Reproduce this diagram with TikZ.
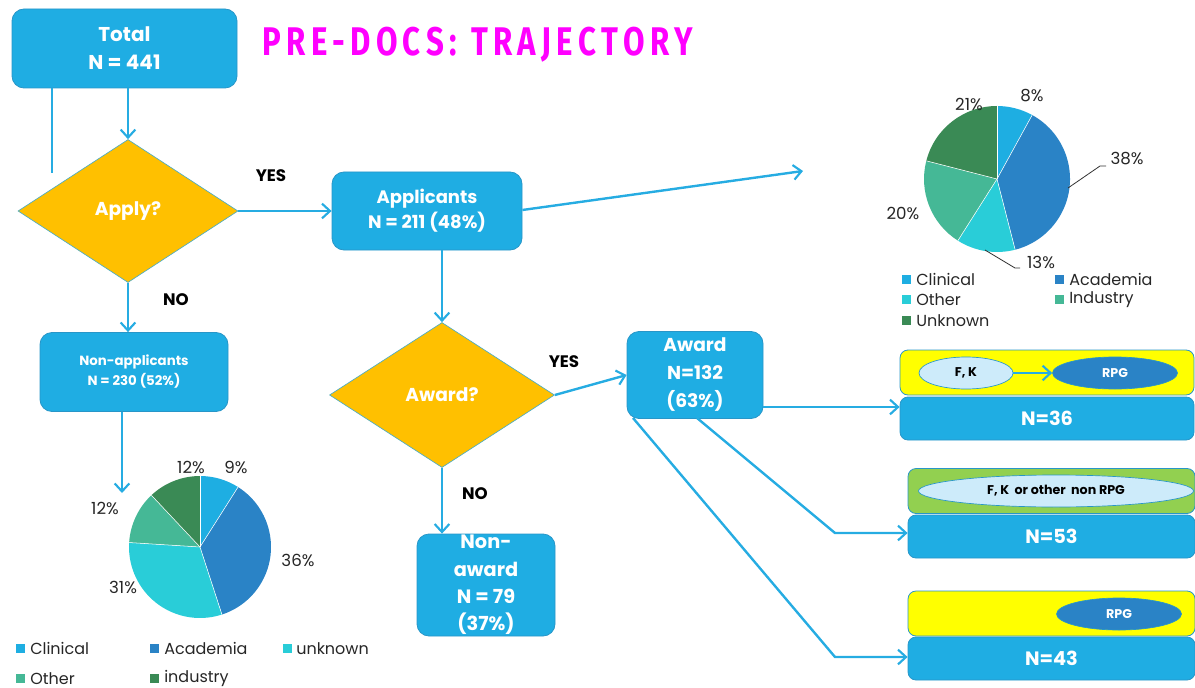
\documentclass[tikz,border=0pt]{standalone}
\usepackage{fontspec}
\setmainfont{Poppins}
\newfontfamily\titlefont{Fira Sans}
\usetikzlibrary{shapes.geometric,arrows.meta,calc}
\definecolor{boxblue}{RGB}{31,173,227}
\definecolor{boxedge}{RGB}{40,150,200}
\definecolor{arrowblue}{RGB}{38,172,226}
\definecolor{diafill}{RGB}{255,192,0}
\definecolor{diaedge}{RGB}{75,172,198}
\definecolor{pclin}{RGB}{30,174,226}
\definecolor{pacad}{RGB}{42,131,198}
\definecolor{pcyan}{RGB}{41,205,216}
\definecolor{pgreen}{RGB}{69,184,150}
\definecolor{pdark}{RGB}{58,138,85}
\definecolor{ylw}{RGB}{255,255,0}
\definecolor{grn}{RGB}{146,208,80}
\definecolor{lblue}{RGB}{205,235,250}
\definecolor{titlemag}{RGB}{255,0,255}
\tikzset{
  bluebox/.style={draw=boxedge, line width=0.6pt, fill=boxblue, rounded corners=9pt, text=white, font=\bfseries, align=center, inner sep=0pt},
  decision/.style={diamond, draw=diaedge, line width=0.5pt, fill=diafill, text=white, font=\bfseries\fontsize{14}{16}\selectfont, inner sep=0pt},
  arr/.style={draw=arrowblue, line width=1.8pt, -{Straight Barb[length=6pt,width=11pt,line width=1.6pt]}},
  plain/.style={draw=arrowblue, line width=1.8pt},
  lbl/.style={font=\bfseries\fontsize{12.5}{14}\selectfont, text=black},
  pct/.style={font=\fontsize{12.5}{14}\selectfont, text=black!85, inner sep=0pt},
  leg/.style={font=\fontsize{12}{14}\selectfont, text=black!85, anchor=west, inner sep=0pt},
  topbar/.style={draw=boxedge, line width=0.6pt, rounded corners=6pt, minimum height=33.75pt, inner sep=0pt},
  nbox/.style={bluebox, rounded corners=6pt, minimum height=32.25pt, font=\bfseries\fontsize{14.5}{16}\selectfont},
  oval/.style={ellipse, draw=boxedge, line width=0.5pt, minimum height=24pt, inner sep=0pt, font=\bfseries\fontsize{9.5}{11}\selectfont},
}
\begin{document}
\begin{tikzpicture}[x=0.75pt,y=-0.75pt]
\useasboundingbox (0,0) rectangle (1195,688);
% boxes
\node[bluebox, minimum width=168.75pt, minimum height=59.25pt, font=\bfseries\fontsize{15}{21}\selectfont] (total) at (124.5,48.5) {Total\\N = 441};
\node[decision, minimum width=165pt, minimum height=107.25pt] (apply) at (128,211) {Apply?};
\node[bluebox, minimum width=142.5pt, minimum height=58.5pt, font=\bfseries\fontsize{13.5}{19}\selectfont] (appl) at (427,211) {Applicants\\N = 211 (48\%)};
\node[bluebox, minimum width=141pt, minimum height=59.25pt, font=\bfseries\fontsize{10}{15}\selectfont] (nonappl) at (134,372) {Non-applicants\\N = 230 (52\%)};
\node[decision, minimum width=168.75pt, minimum height=108.75pt] (awardq) at (442,395) {Award?};
\node[bluebox, minimum width=102pt, minimum height=65.25pt, font=\bfseries\fontsize{14}{21}\selectfont] (award) at (695,375) {Award\\N=132\\(63\%)};
\node[bluebox, minimum width=103.5pt, minimum height=76.5pt, font=\bfseries\fontsize{14.5}{20.5}\selectfont] (nonaward) at (486,585) {Non-\\award\\N = 79\\(37\%)};
% title
\node[text=titlemag, inner sep=0pt] (title) at (478,45) {\scalebox{0.78}[1]{\titlefont\bfseries\fontsize{30}{32}\selectfont P\,R\,E\,-\,D\,O\,C\,S\,:\ \ T\,R\,A\,J\,E\,C\,T\,O\,R\,Y}};
% labels
\node[lbl] (yes1) at (271,176) {YES};
\node[lbl] (no1) at (176,300) {NO};
\node[lbl] (yes2) at (564,362) {YES};
\node[lbl] (no2) at (475,494) {NO};
% right boxes
\node[topbar, fill=ylw, minimum width=220.5pt] (bar1) at (1047,372.5) {};
\node[nbox, minimum width=220.5pt] (n36) at (1047,418.5) {N=36};
\node[oval, fill=lblue, minimum width=70.5pt, text=black] (fk) at (966,373) {F, K};
\node[oval, fill=pacad, minimum width=93.75pt, text=white] (rpg1) at (1115,373) {RPG};
\node[topbar, fill=grn, minimum width=215.25pt] (bar2) at (1051.5,491) {};
\node[nbox, minimum width=215.25pt] (n53) at (1051.5,536.5) {N=53};
\node[oval, fill=lblue, minimum width=206.25pt, text=black] (fkother) at (1056,491) {F, K\ \ or other\ \ non RPG};
\node[topbar, fill=ylw, minimum width=215.25pt] (bar3) at (1051.5,613.5) {};
\node[nbox, minimum width=215.25pt] (n43) at (1051.5,658.5) {N=43};
\node[oval, fill=pacad, minimum width=93.75pt, text=white] (rpg3) at (1119,614) {RPG};
\draw[arr] (fk) -- (rpg1);
% connectors
\coordinate (tl) at (52,173);
\draw[plain] (total.south -| tl) -- (tl);
\draw[arr] (total.south -| apply.north) -- (apply.north);
\draw[arr] (apply.east) -- (appl.west);
\coordinate (pieA) at (803,171);
\draw[arr] ($(appl.east)+(0,-1)$) -- (pieA);
\draw[arr] (appl.south -| awardq.north) -- (awardq.north);
\draw[arr] (apply.south) -- (apply.south |- nonappl.north);
\coordinate (pieB) at (122,493);
\draw[arr] (nonappl.south -| pieB) -- (pieB);
\draw[arr] (awardq.east) -- ($(award.west)+(0,0)$);
\draw[arr] (awardq.south) -- (awardq.south |- nonaward.north);
\coordinate (a1) at (763,407);
\draw[arr] (a1) -- (a1 -| n36.west);
\coordinate (b1) at (697,418);
\coordinate (b2) at (835,533);
\draw[arr] (b1) -- (b2) -- (b2 -| n53.west);
\coordinate (c1) at (633,418);
\coordinate (c2) at (835,657);
\draw[arr] (c1) -- (c2) -- (c2 -| n43.west);
% left pie
\begin{scope}[shift={(200,547)}]
\def\R{53.25pt}
\fill[pclin] (0,0) -- (90:\R) arc[start angle=90, end angle=57.6, radius=\R] -- cycle;
\fill[pacad] (0,0) -- (57.6:\R) arc[start angle=57.6, end angle=-72, radius=\R] -- cycle;
\fill[pcyan] (0,0) -- (-72:\R) arc[start angle=-72, end angle=-183.6, radius=\R] -- cycle;
\fill[pgreen] (0,0) -- (-183.6:\R) arc[start angle=-183.6, end angle=-226.8, radius=\R] -- cycle;
\fill[pdark] (0,0) -- (-226.8:\R) arc[start angle=-226.8, end angle=-270, radius=\R] -- cycle;
\foreach \a in {90,57.6,-72,-183.6,-226.8} \draw[white, line width=0.4pt] (0,0) -- (\a:\R);
\end{scope}
\node[pct] (l9) at (236,467) {9\%};
\node[pct] (l12a) at (191,467) {12\%};
\node[pct] (l36) at (298,560) {36\%};
\node[pct] (l31) at (123,587) {31\%};
\node[pct] (l12b) at (105,508) {12\%};
% left legend
\fill[pclin] (16,644) rectangle (25,653);
\node[leg] (lg1) at (30,648.5) {Clinical};
\fill[pacad] (150,644) rectangle (159,653);
\node[leg] (lg2) at (164,648.5) {Academia};
\fill[pcyan] (283,644) rectangle (292,653);
\node[leg] (lg3) at (296,648.5) {unknown};
\fill[pgreen] (16,674) rectangle (25,683);
\node[leg] (lg4) at (30,678.5) {Other};
\fill[pdark] (150,674) rectangle (159,683);
\node[leg] (lg5) at (164,678.5) {industry};
% right pie
\begin{scope}[shift={(997,179)}]
\def\R{54.75pt}
\fill[pclin] (0,0) -- (90:\R) arc[start angle=90, end angle=61.2, radius=\R] -- cycle;
\fill[pacad] (0,0) -- (61.2:\R) arc[start angle=61.2, end angle=-75.6, radius=\R] -- cycle;
\fill[pcyan] (0,0) -- (-75.6:\R) arc[start angle=-75.6, end angle=-122.4, radius=\R] -- cycle;
\fill[pgreen] (0,0) -- (-122.4:\R) arc[start angle=-122.4, end angle=-194.4, radius=\R] -- cycle;
\fill[pdark] (0,0) -- (-194.4:\R) arc[start angle=-194.4, end angle=-270, radius=\R] -- cycle;
\foreach \a in {90,61.2,-75.6,-122.4,-194.4} \draw[white, line width=0.4pt] (0,0) -- (\a:\R);
\end{scope}
\draw[black!80, line width=0.6pt] (1068,188) -- (1100,166) -- (1106,166);
\draw[black!80, line width=0.6pt] (985,250) -- (1015,268) -- (1020,268);
\node[pct] (r8) at (1032,96) {8\%};
\node[pct] (r38) at (1127,159) {38\%};
\node[pct] (r13) at (1041,262) {13\%};
\node[pct] (r20) at (903,213) {20\%};
\node[pct] (r21) at (969,104) {21\%};
% right legend
\fill[pclin] (902,275) rectangle (911,284);
\node[leg] (rg1) at (916,279.5) {Clinical};
\fill[pacad] (1055,275) rectangle (1064,284);
\node[leg] (rg2) at (1069,279.5) {Academia};
\fill[pcyan] (902,295) rectangle (911,304);
\node[leg] (rg3) at (916,299.5) {Other};
\fill[pgreen] (1055,295) rectangle (1064,304);
\node[leg] (rg4) at (1069,299.5) {Industry};
\fill[pdark] (902,316) rectangle (911,325);
\node[leg] (rg5) at (916,320.5) {Unknown};
\end{tikzpicture}
\end{document}
